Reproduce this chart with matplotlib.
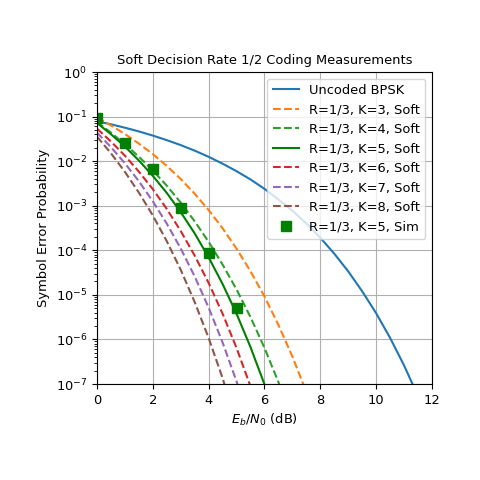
import numpy as np
import matplotlib
matplotlib.use("Agg")
import matplotlib.pyplot as plt

plt.rcParams['font.size'] = 9.4

# Eb/N0 grid (dB) for the curves
ebn0_bpsk = [0, 0.5, 1, 1.5, 2, 2.5, 3, 3.5, 4, 4.5, 5, 5.5, 6, 6.5, 7, 7.5,
             8, 8.5, 9, 9.5, 10, 10.5, 11, 11.5]
pe_bpsk = [0.0786, 0.0671, 0.0563, 0.0464, 0.0375, 0.0296, 0.0229, 0.0172,
           0.0125, 0.00877, 0.00595, 0.00388, 0.00239, 0.00137, 7.73e-4,
           3.99e-4, 1.91e-4, 8.4e-5, 3.36e-5, 1.2e-5, 3.87e-6, 1.08e-6,
           2.61e-7, 5.3e-8]

ebn0 = [0, 0.5, 1, 1.5, 2, 2.5, 3, 3.5, 4, 4.5, 5, 5.5, 6, 6.5, 7, 7.5]

# log10 of symbol error probability for each constraint length
log_k3 = [-1.02, -1.198, -1.391, -1.606, -1.843, -2.106, -2.401, -2.732,
          -3.097, -3.506, -3.964, -4.471, -5.038, -5.675, -6.385, -7.179]
log_k4 = [-1.12, -1.36, -1.62, -1.90, -2.21, -2.55, -2.93, -3.35,
          -3.81, -4.32, -4.88, -5.50, -6.19, -6.96, -7.80]
log_k5 = [-1.143, -1.395, -1.672, -1.984, -2.330, -2.712, -3.144, -3.621,
          -4.159, -4.757, -5.424, -6.174, -7.008, -7.95]
log_k6 = [-1.27, -1.558, -1.877, -2.234, -2.628, -3.072, -3.567, -4.120,
          -4.733, -5.424, -6.192, -7.056]
log_k7 = [-1.36, -1.685, -2.047, -2.450, -2.901, -3.401, -3.960, -4.587,
          -5.286, -6.069, -6.942, -7.93]
log_k8 = [-1.45, -1.822, -2.239, -2.704, -3.218, -3.795, -4.438, -5.162,
          -5.967, -6.870, -7.9]

# simulated K=5 points
sim_ebn0 = [0, 1, 2, 3, 4, 5]
sim_pe = [0.094, 0.026, 0.0066, 9.1e-4, 8.5e-5, 5.0e-6]

curves = [
    (log_k3, 'C1', '--', 'R=1/3, K=3, Soft'),
    (log_k4, 'C2', '--', 'R=1/3, K=4, Soft'),
    (log_k5, 'green', '-', 'R=1/3, K=5, Soft'),
    (log_k6, 'C3', '--', 'R=1/3, K=6, Soft'),
    (log_k7, 'C4', '--', 'R=1/3, K=7, Soft'),
    (log_k8, 'C5', '--', 'R=1/3, K=8, Soft'),
]

fig, ax = plt.subplots(figsize=(4.8, 4.8), dpi=100)
fig.subplots_adjust(left=0.202, right=0.9, bottom=0.2, top=0.85)

ax.semilogy(ebn0_bpsk, pe_bpsk, color='C0', label='Uncoded BPSK')
for logs, col, ls, lab in curves:
    x = ebn0[:len(logs)]
    ax.semilogy(x, 10.0 ** np.array(logs), color=col, linestyle=ls, label=lab)
ax.semilogy(sim_ebn0, sim_pe, 's', color='green', markersize=7,
            label='R=1/3, K=5, Sim')

ax.set_xlim(0, 12)
ax.set_ylim(1e-7, 1)
ax.grid(True)
ax.set_xlabel('$E_b/N_0$ (dB)')
ax.set_ylabel('Symbol Error Probability')
ax.set_title('Soft Decision Rate 1/2 Coding Measurements', fontsize=9.4)
ax.legend(loc='upper right')

fig.savefig('out.png', dpi=100)
